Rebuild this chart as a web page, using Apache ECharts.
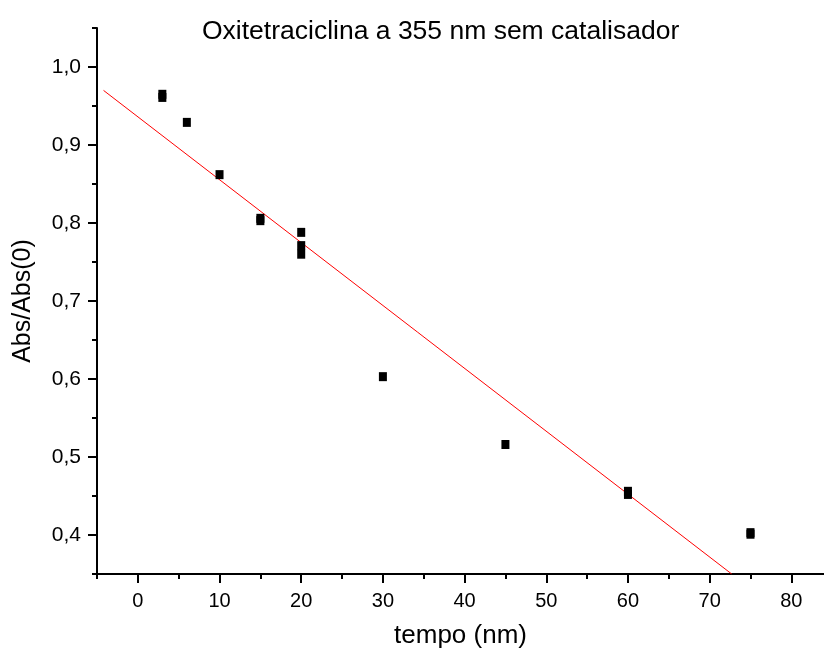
<!DOCTYPE html>
<html>
<head>
<meta charset="utf-8">
<script src="https://cdn.jsdelivr.net/npm/echarts@6/dist/echarts.min.js"></script>
<style>
html,body{margin:0;padding:0;background:#fff;}
#chart{width:824px;height:655px;}
</style>
</head>
<body>
<div id="chart"></div>
<script>
// Data
const tempo = [3, 3, 6, 10, 15, 15, 20, 20, 20, 30, 45, 60, 60, 75, 75];
const absRatio = [0.965, 0.961, 0.929, 0.862, 0.806, 0.803, 0.788, 0.771, 0.760, 0.603, 0.516, 0.456, 0.452, 0.403, 0.401];
// Linear fit line endpoints (as drawn)
const fitX = [-4.2, 72.7];
const fitY = [0.970, 0.350];
// Axis ticks
const xMajorTicks = [0, 10, 20, 30, 40, 50, 60, 70, 80];
const xMinorTicks = [-5, 5, 15, 25, 35, 45, 55, 65, 75];
const yMajorTicks = [0.4, 0.5, 0.6, 0.7, 0.8, 0.9, 1.0];
const yMinorTicks = [0.35, 0.45, 0.55, 0.65, 0.75, 0.85, 0.95, 1.05];

const FONT = "'Liberation Sans', Arial, sans-serif";
const chart = echarts.init(document.getElementById('chart'), null, {renderer: 'canvas'});

const scatterData = tempo.map((x, i) => [x, absRatio[i]]);
const fitData = fitX.map((x, i) => [x, fitY[i]]);

const xBase = {
  type: 'value', min: -5, max: 84, position: 'bottom',
  splitLine: {show: false}
};
const yBase = {
  type: 'value', min: 0.35, max: 1.05, position: 'left',
  splitLine: {show: false}
};

chart.setOption({
  animation: false,
  backgroundColor: '#ffffff',
  title: {
    text: 'Oxitetraciclina a 355 nm sem catalisador',
    left: 197, top: 13,
    textStyle: {fontFamily: FONT, fontSize: 26.5, fontWeight: 'normal', color: '#000'}
  },
  grid: {left: 97, right: 0, top: 28, bottom: 81, containLabel: false},
  xAxis: [
    Object.assign({}, xBase, {
      name: 'tempo (nm)', nameLocation: 'middle', nameGap: 49,
      nameTextStyle: {fontFamily: FONT, fontSize: 26, color: '#000'},
      axisLine: {show: true, onZero: false, lineStyle: {color: '#000', width: 2}},
      axisTick: {show: true, inside: false, length: 9, lineStyle: {color: '#000', width: 2}, customValues: xMajorTicks},
      axisLabel: {show: true, margin: 17, fontFamily: FONT, fontSize: 20, color: '#000', customValues: xMajorTicks,
        formatter: v => String(v)}
    }),
    Object.assign({}, xBase, {
      axisLine: {show: false, onZero: false},
      axisTick: {show: true, inside: false, length: 5, lineStyle: {color: '#000', width: 2}, customValues: xMinorTicks},
      axisLabel: {show: false}
    })
  ],
  yAxis: [
    Object.assign({}, yBase, {
      name: 'Abs/Abs(0)', nameLocation: 'middle', nameGap: 61,
      nameTextStyle: {fontFamily: FONT, fontSize: 25, color: '#000'},
      axisLine: {show: true, onZero: false, lineStyle: {color: '#000', width: 2}},
      axisTick: {show: true, inside: false, length: 9, lineStyle: {color: '#000', width: 2}, customValues: yMajorTicks},
      axisLabel: {show: true, margin: 16, fontFamily: FONT, fontSize: 21, color: '#000', customValues: yMajorTicks,
        formatter: v => v.toFixed(1).replace('.', ',')}
    }),
    Object.assign({}, yBase, {
      axisLine: {show: false, onZero: false},
      axisTick: {show: true, inside: false, length: 5, lineStyle: {color: '#000', width: 2}, customValues: yMinorTicks},
      axisLabel: {show: false}
    })
  ],
  series: [
    {
      type: 'line', data: fitData, xAxisIndex: 0, yAxisIndex: 0,
      showSymbol: false, symbol: 'none', clip: true,
      lineStyle: {color: '#ff0000', width: 1}, z: 2
    },
    {
      type: 'scatter', data: scatterData, xAxisIndex: 0, yAxisIndex: 0,
      symbol: 'rect', symbolSize: [8, 9],
      itemStyle: {color: '#000', opacity: 1}, z: 3
    }
  ]
});
</script>
</body>
</html>
